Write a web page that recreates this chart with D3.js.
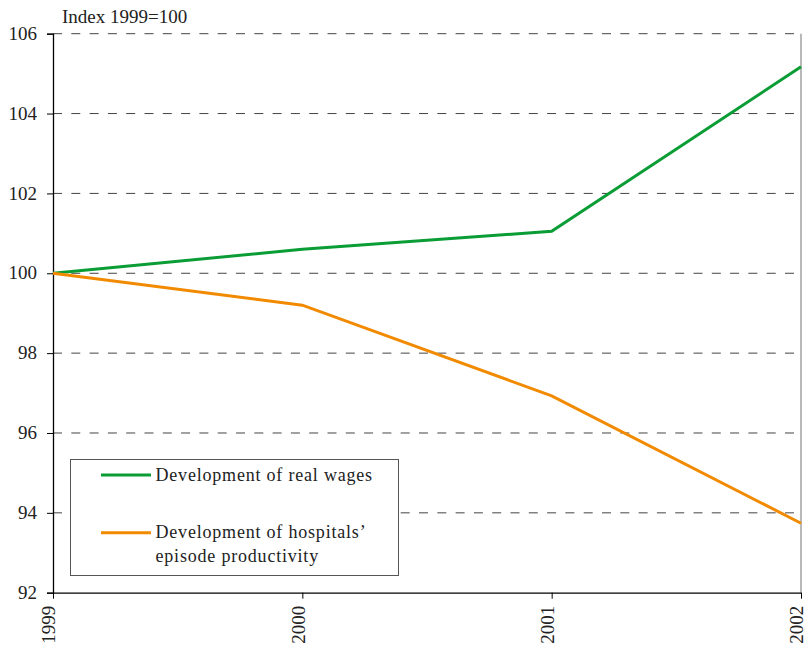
<!DOCTYPE html>
<html>
<head>
<meta charset="utf-8">
<script src="https://cdn.jsdelivr.net/npm/d3@7"></script>
<style>
  html, body { margin: 0; padding: 0; background: #fff; }
  svg { display: block; font-family: "Liberation Serif", "Times New Roman", serif; }
  svg text { font-family: "Liberation Serif", "Times New Roman", serif !important; }
</style>
</head>
<body>
<svg id="chart" width="807" height="650"></svg>
<script>
const years = ["1999", "2000", "2001", "2002"];
const realWages = [100, 100.6, 101.05, 105.17];
const episodeProductivity = [100, 99.2, 96.93, 93.74];
const yTicks = [92, 94, 96, 98, 100, 102, 104, 106];
const seriesNames = ["Development of real wages", ["Development of hospitals\u2019", "episode productivity"]];
const seriesColors = ["#0a9c35", "#f28a00"];
const yAxisTitle = "Index 1999=100";

const svg = d3.select("#chart");
const margin = { left: 53, right: 6, top: 33.7, bottom: 57.3 };
const W = 807, H = 650;
const x = d3.scalePoint().domain(years).range([margin.left, W - margin.right]);
const y = d3.scaleLinear().domain([92, 106]).range([H - margin.bottom, margin.top]);
const fs = 19;

// gridlines
svg.append("g").selectAll("line").data(yTicks.filter(t => t > 92)).join("line")
  .attr("x1", margin.left).attr("x2", W - margin.right)
  .attr("y1", d => y(d)).attr("y2", d => y(d))
  .attr("stroke", "#444").attr("stroke-width", 1)
  .attr("stroke-dasharray", "9,9.3");

// right border
svg.append("line")
  .attr("x1", W - margin.right).attr("x2", W - margin.right)
  .attr("y1", y(106)).attr("y2", y(92))
  .attr("stroke", "#8a8a8a").attr("stroke-width", 1.2);

// y axis
const yAxis = d3.axisLeft(y).tickValues(yTicks).tickSize(6).tickPadding(10).tickFormat(d3.format("d"));
const gy = svg.append("g").attr("transform", `translate(${margin.left},0)`).call(yAxis);
gy.attr("font-family", null).attr("font-size", null);
gy.select(".domain").attr("stroke", "#000").attr("stroke-width", 1.3);
gy.selectAll(".tick line").attr("stroke", "#000");
gy.selectAll(".tick text").attr("font-size", fs).attr("fill", "#222").attr("dy", "0.3em");

// x axis
const xAxis = d3.axisBottom(x).tickSize(6).tickSizeOuter(0);
const gx = svg.append("g").attr("transform", `translate(0,${y(92)})`).call(xAxis);
gx.attr("font-family", null).attr("font-size", null);
gx.select(".domain").attr("stroke", "#000").attr("stroke-width", 1.3);
gx.selectAll(".tick line").attr("stroke", "#000");
gx.selectAll(".tick text").attr("font-size", fs).attr("fill", "#222")
  .attr("text-anchor", "end")
  .attr("transform", "rotate(-90)")
  .attr("x", -13).attr("y", 0).attr("dy", "0.1em");

// lines
const line = d3.line().x((d, i) => x(years[i])).y(d => y(d));
[realWages, episodeProductivity].forEach((s, k) => {
  svg.append("path").datum(s)
    .attr("fill", "none").attr("stroke", seriesColors[k])
    .attr("stroke-width", 3).attr("stroke-linejoin", "miter")
    .attr("d", line);
});

// axis title
svg.append("text").attr("x", 62).attr("y", 23)
  .attr("font-size", fs).attr("fill", "#222").text(yAxisTitle);

// legend
const lg = svg.append("g");
lg.append("rect").attr("x", 70.5).attr("y", 459.5).attr("width", 328).attr("height", 116)
  .attr("fill", "#fff").attr("stroke", "#555").attr("stroke-width", 1);
const legendRows = [
  { lineY: 475, textY: [480.5] },
  { lineY: 532.7, textY: [538, 562] }
];
legendRows.forEach((r, k) => {
  lg.append("line").attr("x1", 101).attr("x2", 151).attr("y1", r.lineY).attr("y2", r.lineY)
    .attr("stroke", seriesColors[k]).attr("stroke-width", 3);
  const names = Array.isArray(seriesNames[k]) ? seriesNames[k] : [seriesNames[k]];
  names.forEach((n, j) => {
    lg.append("text").attr("x", 155.5).attr("y", r.textY[j])
      .attr("font-size", fs - 1).attr("letter-spacing", "0.8px").attr("fill", "#222").text(n);
  });
});
</script>
</body>
</html>
